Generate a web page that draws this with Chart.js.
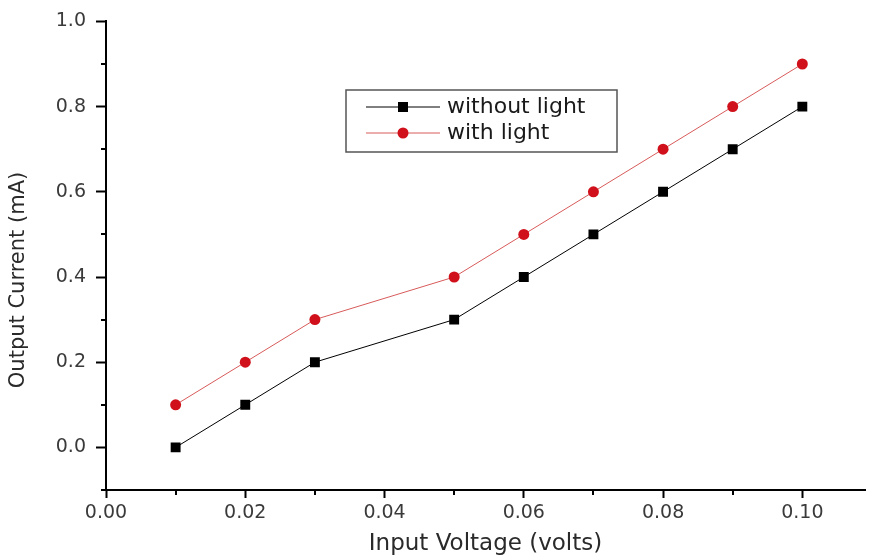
<!DOCTYPE html>
<html>
<head>
<meta charset="utf-8">
<script src="https://cdn.jsdelivr.net/npm/chart.js@4"></script>
<style>
  html, body { margin: 0; padding: 0; background: #fff; }
  #wrap { width: 872px; height: 558px; }
</style>
</head>
<body>
<div id="wrap"><canvas id="chart" width="872" height="558"></canvas></div>
<script>
// --- data ---
const voltage = [0.01, 0.02, 0.03, 0.05, 0.06, 0.07, 0.08, 0.09, 0.10];
const withoutLight = [0.0, 0.1, 0.2, 0.3, 0.4, 0.5, 0.6, 0.7, 0.8];
const withLight = [0.1, 0.2, 0.3, 0.4, 0.5, 0.6, 0.7, 0.8, 0.9];

const xTicks = [0.00, 0.02, 0.04, 0.06, 0.08, 0.10];
const xMinor = [0.01, 0.03, 0.05, 0.07, 0.09];
const yTicks = [0.0, 0.2, 0.4, 0.6, 0.8, 1.0];
const yMinor = [-0.1, 0.1, 0.3, 0.5, 0.7, 0.9];

const yTitle = 'Output Current (mA)';
const xTitle = 'Input Voltage (volts)';

const fontFam = "'DejaVu Sans', sans-serif";

function pts(ys) {
    return voltage.map((v, i) => ({ x: v, y: ys[i] }));
}

// minor ticks, y title, boxed legend (origin style)
const extras = {
    id: 'extras',
    afterDraw(chart) {
        const ctx = chart.ctx;
        const xs = chart.scales.x, ys = chart.scales.y;
        const area = chart.chartArea;
        ctx.save();
        ctx.strokeStyle = '#000';
        ctx.lineWidth = 2;
        xMinor.forEach(v => {
            const px = Math.round(xs.getPixelForValue(v));
            ctx.beginPath();
            ctx.moveTo(px, area.bottom);
            ctx.lineTo(px, area.bottom + 5);
            ctx.stroke();
        });
        yMinor.forEach(v => {
            const py = Math.round(ys.getPixelForValue(v));
            ctx.beginPath();
            ctx.moveTo(area.left, py);
            ctx.lineTo(area.left - 5, py);
            ctx.stroke();
        });

        // y title
        ctx.save();
        ctx.translate(19, 280);
        ctx.rotate(-Math.PI / 2);
        ctx.fillStyle = '#2a2a2a';
        ctx.font = '21px ' + fontFam;
        ctx.textAlign = 'center';
        ctx.textBaseline = 'middle';
        ctx.fillText(yTitle, 0, 0);
        ctx.restore();

        // legend box
        const bx = 346, by = 90, bw = 271, bh = 62;
        ctx.lineWidth = 1.5;
        ctx.strokeStyle = '#555';
        ctx.strokeRect(bx, by, bw, bh);
        chart.data.datasets.forEach((ds, i) => {
            const cy = by + 17 + i * 26;
            ctx.strokeStyle = ds.borderColor;
            ctx.lineWidth = 1;
            ctx.beginPath();
            ctx.moveTo(366, cy);
            ctx.lineTo(440, cy);
            ctx.stroke();
            ctx.fillStyle = ds.pointBackgroundColor;
            if (ds.pointStyle === 'rect') {
                ctx.fillRect(403 - 5, cy - 5, 10, 10);
            } else {
                ctx.beginPath();
                ctx.arc(403, cy, 5.5, 0, Math.PI * 2);
                ctx.fill();
            }
            ctx.fillStyle = '#1a1a1a';
            ctx.font = '22px ' + fontFam;
            ctx.textBaseline = 'middle';
            ctx.fillText(ds.label, 447, cy);
        });
        ctx.restore();
    }
};

const ctx = document.getElementById('chart').getContext('2d');
const chart = new Chart(ctx, {
    type: 'scatter',
    data: {
        datasets: [{
            label: 'without light',
            data: pts(withoutLight),
            showLine: true,
            borderColor: '#000',
            borderWidth: 1,
            pointStyle: 'rect',
            pointRadius: 7,
            pointBackgroundColor: '#000',
            pointBorderColor: '#000',
            pointBorderWidth: 0
        }, {
            label: 'with light',
            data: pts(withLight),
            showLine: true,
            borderColor: '#d85a5a',
            borderWidth: 1,
            pointStyle: 'circle',
            pointRadius: 5.5,
            pointBackgroundColor: '#d0101a',
            pointBorderColor: '#d0101a',
            pointBorderWidth: 0
        }]
    },
    options: {
        responsive: false,
        animation: false,
        layout: { padding: { top: 20, right: 0, left: 0, bottom: 0 } },
        plugins: {
            legend: { display: false },
            tooltip: { enabled: false }
        },
        scales: {
            x: {
                type: 'linear',
                min: 0,
                max: 0.109,
                afterBuildTicks: s => { s.ticks = xTicks.map(v => ({ value: v })); },
                afterFit: s => { s.height = 68; },
                border: { color: '#000', width: 2 },
                grid: { drawOnChartArea: false, tickLength: 8, tickColor: '#000', tickWidth: 2 },
                ticks: {
                    padding: 4,
                    color: '#3a3a3a',
                    font: { size: 19, family: fontFam },
                    callback: v => v.toFixed(2)
                },
                title: {
                    display: true,
                    text: xTitle,
                    color: '#2a2a2a',
                    font: { size: 23, family: fontFam },
                    padding: { top: 2, bottom: 0 }
                }
            },
            y: {
                type: 'linear',
                min: -0.1,
                max: 1.0,
                afterBuildTicks: s => { s.ticks = yTicks.map(v => ({ value: v })); },
                afterFit: s => { s.width = 106; },
                border: { color: '#000', width: 2 },
                grid: { drawOnChartArea: false, tickLength: 10, tickColor: '#000', tickWidth: 2 },
                ticks: {
                    padding: 10,
                    color: '#3a3a3a',
                    font: { size: 19, family: fontFam },
                    callback: v => v.toFixed(1)
                },
                title: { display: false }
            }
        }
    },
    plugins: [extras]
});
</script>
</body>
</html>
